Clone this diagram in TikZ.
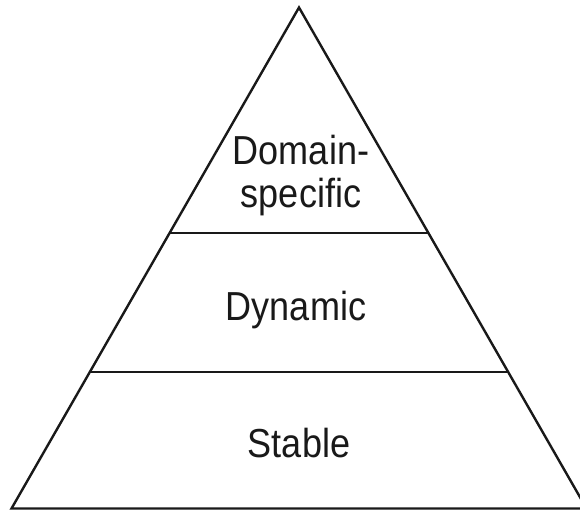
\documentclass[tikz,border=0pt]{standalone}
\usepackage{fontspec}
\setmainfont{Liberation Sans}[FakeStretch=0.89]
\usetikzlibrary{calc}
\begin{document}
\begin{tikzpicture}[x=1pt,y=-1pt,
  edge/.style={line width=2.4pt,black!90,line join=miter},
  tier/.style={inner sep=0pt,anchor=base,align=center,
    font=\fontsize{40.5}{43.4}\selectfont,text=black!90}]
  \useasboundingbox (0,0) rectangle (580,510);
  \clip (0,0) rectangle (580,510);
  % pyramid outline
  \coordinate (apex) at (299,7.5);
  \coordinate (bl) at (11.5,508.5);
  \coordinate (br) at (586.5,508.5);
  \draw[edge] (bl) -- (apex) -- (br) -- cycle;
  % tier dividers
  \coordinate (d1l) at ($(apex)!0.4507!(bl)$);
  \coordinate (d1r) at ($(apex)!0.4507!(br)$);
  \coordinate (d2l) at ($(apex)!0.7281!(bl)$);
  \coordinate (d2r) at ($(apex)!0.7281!(br)$);
  \draw[edge] (d1l) -- (d1r);
  \draw[edge] (d2l) -- (d2r);
  % tier labels (base anchor sits on the last line)
  \node[tier] (top) at (301,207.7) {Domain-\\specific};
  \node[tier] (mid) at (296,320) {Dynamic};
  \node[tier] (low) at (299,457.3) {Stable};
\end{tikzpicture}
\end{document}
